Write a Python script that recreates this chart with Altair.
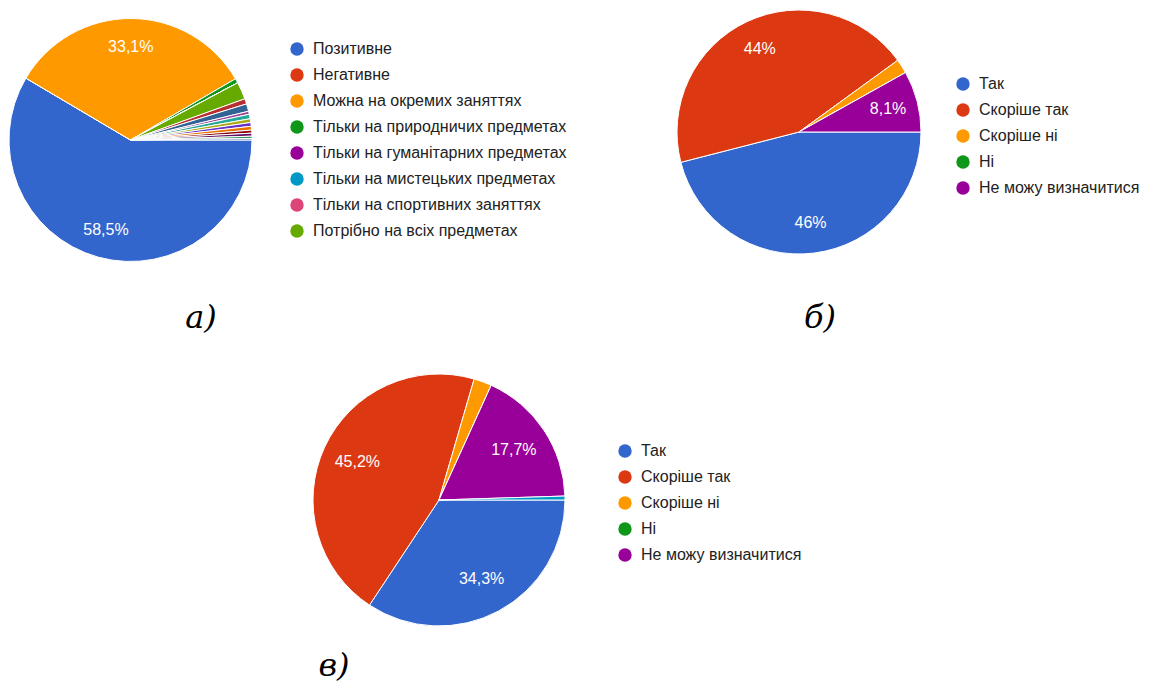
import math
import altair as alt
import pandas as pd

# ---- Data ----
a_cats = [
    "Позитивне",
    "Негативне",
    "Можна на окремих заняттях",
    "Тільки на природничих предметах",
    "Тільки на гуманітарних предметах",
    "Тільки на мистецьких предметах",
    "Тільки на спортивних заняттях",
    "Потрібно на всіх предметах",
    "Інше 1", "Інше 2", "Інше 3", "Інше 4", "Інше 5", "Інше 6",
    "Інше 7", "Інше 8", "Інше 9", "Інше 10", "Інше 11",
]
a_vals = [58.5, 0, 33.1, 0.6, 0, 0, 0, 2.3,
          0.7, 1.0, 0.4, 0.6, 0.5, 0.5, 0.5, 0.4, 0.4, 0.3, 0.2]
a_legend = a_cats[:8]

b_cats = ["Так", "Скоріше так", "Скоріше ні", "Ні", "Не можу визначитися"]
b_vals = [46, 44, 1.9, 0, 8.1]

c_cats = ["Так", "Скоріше так", "Скоріше ні", "Ні", "Не можу визначитися", "Інше"]
c_vals = [34.3, 45.2, 2.3, 0, 17.7, 0.5]
bc_legend = b_cats

captions = ["а)", "б)", "в)"]

palette = ["#3366cc", "#dc3912", "#ff9900", "#109618", "#990099", "#0099c6",
           "#dd4477", "#66aa00", "#b82e2e", "#316395", "#994499", "#22aa99",
           "#aaaa11", "#6633cc", "#e67300", "#8b0707", "#651067", "#329262",
           "#5574a6", "#3b3eac"]


def fmt(v):
    return ("%g" % v).replace(".", ",") + "%"


def make_pie(cats, vals, legend_vals, cx, cy, r, lr, lx, ly):
    df = pd.DataFrame({
        "cat": cats,
        "val": vals,
        "idx": list(range(len(cats))),
        "lab": [fmt(v) if v >= 5 else "" for v in vals],
    })
    theta = alt.Theta("val:Q", stack=True,
                      scale=alt.Scale(range=[math.pi / 2, math.pi / 2 + 2 * math.pi]))
    order = alt.Order("idx:Q", sort="ascending")
    arc = alt.Chart(df).mark_arc(radius=r, stroke="white", strokeWidth=1).encode(
        theta=theta,
        order=order,
        x=alt.value(cx),
        y=alt.value(cy),
        color=alt.Color(
            "cat:N",
            scale=alt.Scale(domain=cats, range=palette[:len(cats)]),
            legend=alt.Legend(values=legend_vals, orient="none",
                              legendX=lx, legendY=ly, title=None),
        ),
    )
    text = alt.Chart(df).mark_text(radius=lr, color="white", fontSize=16,
                                   font="Liberation Sans").encode(
        theta=theta,
        order=order,
        detail="cat:N",
        x=alt.value(cx),
        y=alt.value(cy),
        text="lab:N",
    )
    return alt.layer(arc, text)


pie_a = make_pie(a_cats, a_vals, a_legend, 122.5, 132, 121.5, 93, 281, 33)
pie_b = make_pie(b_cats, b_vals, bc_legend, 791, 124, 122, 92, 947, 68)
pie_c = make_pie(c_cats, c_vals, bc_legend, 431, 492, 126, 90, 609, 435)


def caption(t, x, y):
    return alt.Chart(pd.DataFrame({"t": [t]})).mark_text(
        font="DejaVu Serif", fontStyle="italic", fontSize=32, color="black",
        baseline="middle", align="center",
    ).encode(text="t:N", x=alt.value(x), y=alt.value(y))


cap_a = caption(captions[0], 193, 310)
cap_b = caption(captions[1], 812, 310)
cap_c = caption(captions[2], 326, 658)

chart = alt.layer(pie_a, pie_b, pie_c, cap_a, cap_b, cap_c).resolve_scale(
    theta="independent", color="independent"
).resolve_legend(color="independent").properties(
    width=1133, height=676, autosize=alt.AutoSizeParams(type="none"), padding=0,
    background="white",
).configure_view(stroke=None).configure_legend(
    symbolType="circle", symbolSize=180, symbolStrokeWidth=0, symbolOpacity=1,
    labelFontSize=16, labelFont="Liberation Sans", labelColor="#222222",
    rowPadding=10, labelOffset=8, labelLimit=400,
)

chart.save("out.html", embed_options={"renderer": "svg", "actions": False})
